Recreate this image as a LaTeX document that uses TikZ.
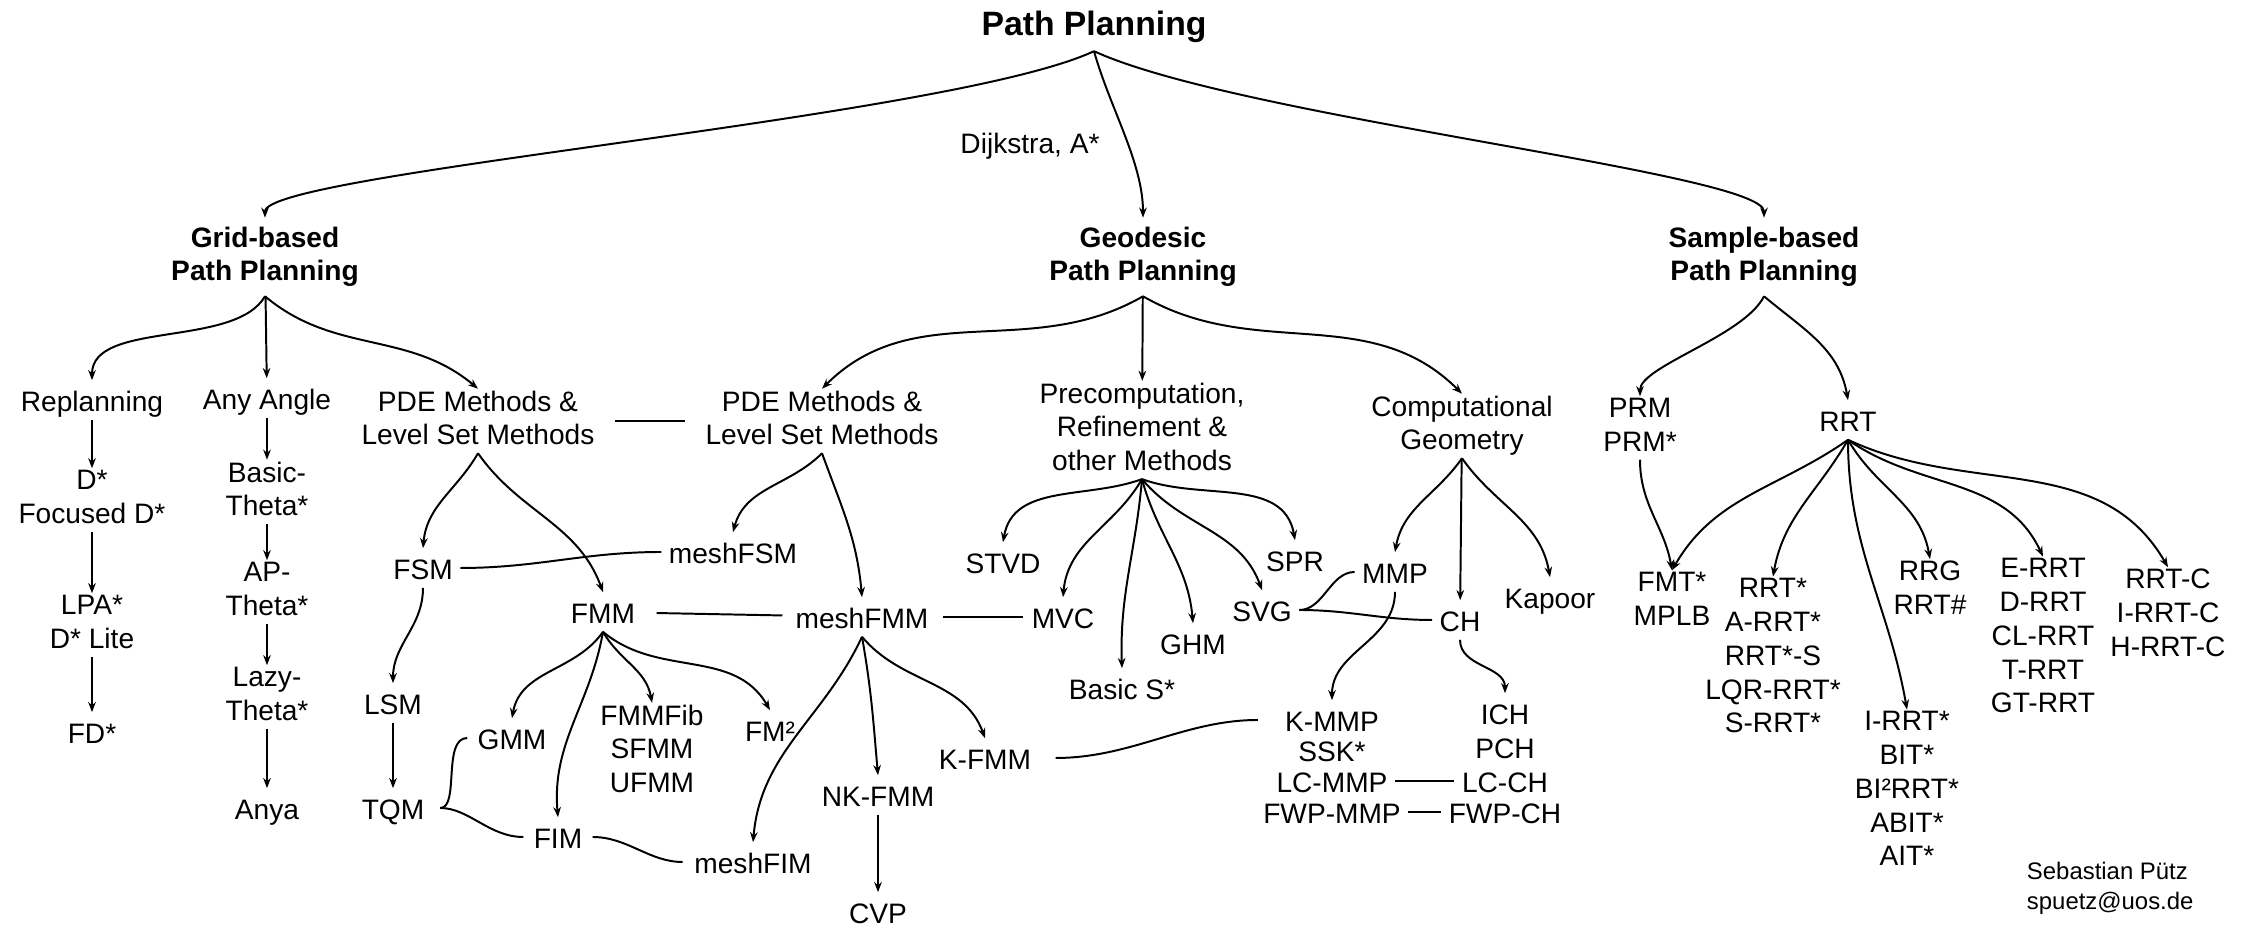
\documentclass[tikz,border=0pt]{standalone}
\usepackage{fontspec}
\setmainfont{Liberation Sans}
\usepackage{tikz}
\usetikzlibrary{
  arrows.meta,
  positioning,
  calc
}
\newcommand{\topstrut}{\rule{0pt}{10.4pt}}
\newcommand{\botstrut}{\rule[-2.3pt]{0pt}{2.3pt}}

\begin{document}
\begin{tikzpicture}[
  x=0.0125cm, y=0.0125cm,
  every node/.style={font=\fontsize{10}{12}\selectfont, align=center, inner sep=0.5pt,
    execute at begin node=\topstrut, execute at end node=\botstrut},
  topic/.style={font=\fontsize{10}{12}\selectfont\bfseries, inner sep=3pt},
  arr/.style={line width=0.7pt, -{Stealth[length=3.6pt, width=2.7pt]}},
  link/.style={line width=0.7pt, shorten <=2pt, shorten >=2pt}
]
  \useasboundingbox (0,0) rectangle (2251,-925);

  \node[topic, font=\fontsize{12}{14.4}\selectfont\bfseries] (title) at (1094,-24) {Path Planning};
  \node (dijkstra) at (1030,-142) {Dijkstra, A*};

  \node[topic] (grid) at (265,-257) {Grid-based\\Path Planning};
  \node[topic] (geo) at (1143,-257) {Geodesic\\Path Planning};
  \node[topic] (sample) at (1764,-257) {Sample-based\\Path Planning};

  \node (repl) at (92,-400) {Replanning};
  \node (anyangle) at (267,-398) {Any Angle};
  \node (pdel) at (478,-421) {PDE Methods \&\\Level Set Methods};
  \node (pder) at (822,-421) {PDE Methods \&\\Level Set Methods};
  \node (precomp) at (1142,-430) {Precomputation,\\Refinement \&\\other Methods};
  \node (compgeo) at (1462,-426) {Computational\\Geometry};
  \node (prm) at (1640,-428) {PRM\\PRM*};
  \node (rrt) at (1848,-420) {RRT};

  \node (dstar) at (92,-500) {D*\\Focused D*};
  \node (lpa) at (92,-625) {LPA*\\D* Lite};
  \node (fdstar) at (92,-732) {FD*};
  \node (basictheta) at (267,-492) {Basic-\\Theta*};
  \node (aptheta) at (267,-592) {AP-\\Theta*};
  \node (lazytheta) at (267,-697) {Lazy-\\Theta*};
  \node (anya) at (267,-808) {Anya};

  \node (fsm) at (423,-568) {FSM};
  \node (lsm) at (393,-703) {LSM};
  \node (tqm) at (393,-808) {TQM};
  \node (fmm) at (603,-612) {FMM};
  \node (gmm) at (512,-738) {GMM};
  \node (fmmfib) at (652,-752) {FMMFib\\SFMM\\UFMM};
  \node (fmsq) at (770,-730) {FM²};
  \node (fim) at (558,-837) {FIM};

  \node (meshfsm) at (733,-552) {meshFSM};
  \node (meshfmm) at (862,-617) {meshFMM};
  \node (meshfim) at (753,-862) {meshFIM};
  \node (nkfmm) at (878,-795) {NK-FMM};
  \node (cvp) at (878,-912) {CVP};
  \node (kfmm) at (985,-758) {K-FMM};

  \node (stvd) at (1003,-562) {STVD};
  \node (mvc) at (1063,-617) {MVC};
  \node (basics) at (1122,-688) {Basic S*};
  \node (ghm) at (1193,-643) {GHM};
  \node (svg) at (1262,-610) {SVG};
  \node (spr) at (1295,-560) {SPR};

  \node (mmp) at (1395,-572) {MMP};
  \node (ch) at (1460,-620) {CH};
  \node (kapoor) at (1550,-597) {Kapoor};
  \node (kmmp) at (1332,-720) {K-MMP};
  \node (ssk) at (1332,-750) {SSK*};
  \node (lcmmp) at (1332,-781) {LC-MMP};
  \node (fwpmmp) at (1332,-812) {FWP-MMP};
  \node (ich) at (1505,-713) {ICH};
  \node (pch) at (1505,-747) {PCH};
  \node (lcch) at (1505,-781) {LC-CH};
  \node (fwpch) at (1505,-812) {FWP-CH};

  \node (fmt) at (1672,-602) {FMT*\\MPLB};
  \node (rrtstar) at (1773,-659) {RRT*\\A-RRT*\\RRT*-S\\LQR-RRT*\\S-RRT*};
  \node (irrt) at (1907,-792) {I-RRT*\\BIT*\\BI²RRT*\\ABIT*\\AIT*};
  \node (rrg) at (1930,-591) {RRG\\RRT\#};
  \node (errt) at (2043,-639) {E-RRT\\D-RRT\\CL-RRT\\T-RRT\\GT-RRT};
  \node (rrtc) at (2168,-616) {RRT-C\\I-RRT-C\\H-RRT-C};

  \node[anchor=west, align=left, font=\fontsize{8.5}{10.5}\selectfont] (author) at (2025,-889)
      {Sebastian Pütz\\spuetz@uos.de};

  \draw[arr] (title.south) .. controls +(-144,-67) and +(0,45) .. (grid.north);
  \draw[arr] (title.south) .. controls +(16,-57) and +(0,55) .. (geo.north);
  \draw[arr] (title.south) .. controls +(146,-67) and +(0,45) .. (sample.north);

  \foreach \a/\b in {repl/dstar, dstar/lpa, lpa/fdstar, anyangle/basictheta,
      basictheta/aptheta, aptheta/lazytheta, lazytheta/anya, lsm/tqm, nkfmm/cvp,
      grid/anyangle, geo/precomp, compgeo/ch}
    \draw[arr] (\a) -- (\b);

  \draw[arr] (grid.south) to[out=-120, in=90, looseness=0.8] (repl.north);
  \draw[arr] (grid.south) to[out=-40, in=140] (pdel.north);
  \draw[arr] (pdel.south) to[out=-120, in=85] (fsm.north);
  \draw[arr] (pdel.south) to[out=-55, in=110] (fmm.north);
  \draw[arr] (fsm.south) to[out=-90, in=90] (lsm.north);
  \draw[arr] (fmm.south) to[out=-125, in=80] (gmm.north);
  \draw[arr] (fmm.south) to[out=-100, in=95] (fim.north);
  \draw[arr] (fmm.south) to[out=-60, in=100] (fmmfib.north);
  \draw[arr] (fmm.south) to[out=-40, in=120] (fmsq.north);

  \draw[arr] (geo.south) to[out=-150, in=45] (pder.north);
  \draw[arr] (geo.south) to[out=-30, in=135] (compgeo.north);
  \draw[arr] (pder.south) to[out=-135, in=75] (meshfsm.north);
  \draw[arr] (pder.south) to[out=-70, in=95] (meshfmm.north);
  \draw[arr] (meshfmm.south) to[out=-115, in=85] (meshfim.north);
  \draw[arr] (meshfmm.south) to[out=-80, in=95] (nkfmm.north);
  \draw[arr] (meshfmm.south) to[out=-50, in=110] (kfmm.north);
  \draw[arr] (precomp.south) to[out=-160, in=80] (stvd.north);
  \draw[arr] (precomp.south) to[out=-120, in=85] (mvc.north);
  \draw[arr] (precomp.south) to[out=-95, in=92] (basics.north);
  \draw[arr] (precomp.south) to[out=-75, in=95] (ghm.north);
  \draw[arr] (precomp.south) to[out=-50, in=110] (svg.north);
  \draw[arr] (precomp.south) to[out=-20, in=100] (spr.north);
  \draw[arr] (compgeo.south) to[out=-125, in=80] (mmp.north);
  \draw[arr] (compgeo.south) to[out=-55, in=100] (kapoor.north);
  \draw[arr] (mmp.south) to[out=-90, in=90] (kmmp.north);
  \draw[arr] (ch.south) to[out=-90, in=90] (ich.north);

  \draw[arr] (sample.south) .. controls +(-20,-40) and +(0,30) .. (prm.north);
  \draw[arr] (sample.south) to[out=-40, in=100] (rrt.north);
  \draw[arr] (prm.south) to[out=-90, in=100] (fmt.north);
  \draw[arr] (rrt.south) to[out=-145, in=60] (fmt.north);
  \draw[arr] (rrt.south) to[out=-120, in=80] (rrtstar.north);
  \draw[arr] (rrt.south) to[out=-90, in=100] (irrt.north);
  \draw[arr] (rrt.south) to[out=-60, in=100] (rrg.north);
  \draw[arr] (rrt.south) to[out=-35, in=115] (errt.north);
  \draw[arr] (rrt.south) to[out=-25, in=120] (rrtc.north);

  \draw[link, shorten <=6.5pt, shorten >=6.5pt] (pdel) -- (pder);
  \draw[link] (fsm.east) to[out=0, in=180] (meshfsm.west);
  \draw[link, shorten <=7pt, shorten >=4pt] (fmm) -- (meshfmm);
  \draw[link, shorten <=4.5pt, shorten >=2.5pt] (meshfmm) -- (mvc);
  \draw[link, shorten <=5pt, shorten >=3pt] (tqm.east) to[out=0, in=180] (gmm.west);
  \draw[link, shorten <=5pt, shorten >=3pt] (tqm.east) to[out=0, in=180] (fim.west);
  \draw[link, shorten <=3pt, shorten >=3.5pt] (fim.east) to[out=0, in=180] (meshfim.west);
  \draw[link, shorten <=8pt, shorten >=9pt] (kfmm.east) to[out=0, in=180] (kmmp.west);
  \draw[link] (svg.east) to[out=0, in=180] (mmp.west);
  \draw[link] (svg.east) to[out=0, in=180] (ch.west);
  \draw[link] (lcmmp) -- (lcch);
  \draw[link] (fwpmmp) -- (fwpch);
\end{tikzpicture}
\end{document}
